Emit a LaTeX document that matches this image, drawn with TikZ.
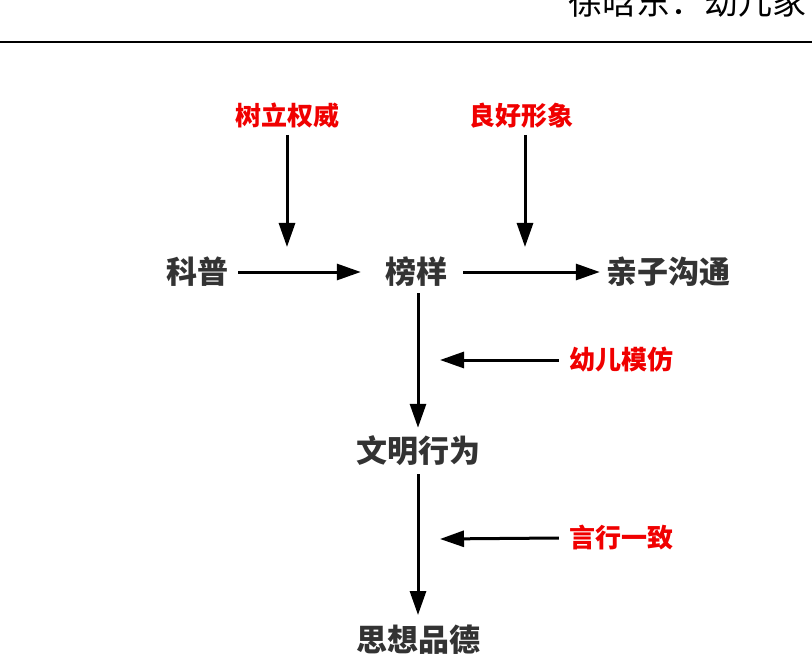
\documentclass[tikz,border=0pt]{standalone}
\usepackage{fontspec}
\newfontfamily\cjk{Noto Sans CJK SC}
\usetikzlibrary{arrows.meta}
\definecolor{txtgray}{HTML}{333333}
\definecolor{lblred}{HTML}{F00000}
\tikzset{
	item/.style={font=\cjk\bfseries\fontsize{31}{31}\selectfont,text=txtgray,inner sep=0pt},
	cause/.style={font=\cjk\bfseries\fontsize{26}{26}\selectfont,text=lblred,inner sep=0pt},
	link/.style={line width=3pt,-{Triangle[length=24pt,width=16pt]}}
}
\begin{document}
\begin{tikzpicture}[x=1pt,y=-1pt]
		\useasboundingbox (0,0) rectangle (812,666);
		% page header (cut by the page edge)
		\node[font=\cjk\fontsize{34}{34}\selectfont,anchor=west,inner sep=0pt] (head) at (568,2) {徐晗东：幼儿家};
		\draw[line width=1.6pt] (0,42) -- (812,42);
		% main nodes
		\node[item] (kepu) at (197,272) {科普};
		\node[item] (bangyang) at (416,272) {榜样};
		\node[item] (goutong) at (668,272) {亲子沟通};
		\node[item] (wenming) at (418,451) {文明行为};
		\node[item] (pinde) at (418,640) {思想品德};
		% red labels
		\node[cause] (quanwei) at (287,116) {树立权威};
		\node[cause] (xingxiang) at (521,116) {良好形象};
		\node[cause] (mofang) at (621,360) {幼儿模仿};
		\node[cause] (yizhi) at (621,538) {言行一致};
		% free ends of the label arrows
		\coordinate (qwend) at (287,247);
		\coordinate (xxend) at (525,247);
		\coordinate (mfend) at (440,360);
		\coordinate (yzend) at (440,539);
		\coordinate (xxstart) at (525,135);
		% arrows
		\draw[link] ([xshift=10pt]kepu.east) -- ([xshift=-24pt]bangyang.west);
		\draw[link] ([xshift=16pt]bangyang.east) -- ([xshift=-6pt]goutong.west);
		\draw[link] ([yshift=-6pt]bangyang.south -| wenming) -- ([yshift=8pt]wenming.north);
		\draw[link] ([yshift=-8pt]wenming.south) -- ([yshift=10pt]pinde.north);
		\draw[link] ([yshift=-6pt]quanwei.south) -- (qwend);
		\draw[link] (xxstart) -- (xxend);
		\draw[link] ([xshift=-10pt]mofang.west) -- (mfend);
		\draw[link] ([xshift=-10pt]yizhi.west) -- (yzend);
\end{tikzpicture}
\end{document}
